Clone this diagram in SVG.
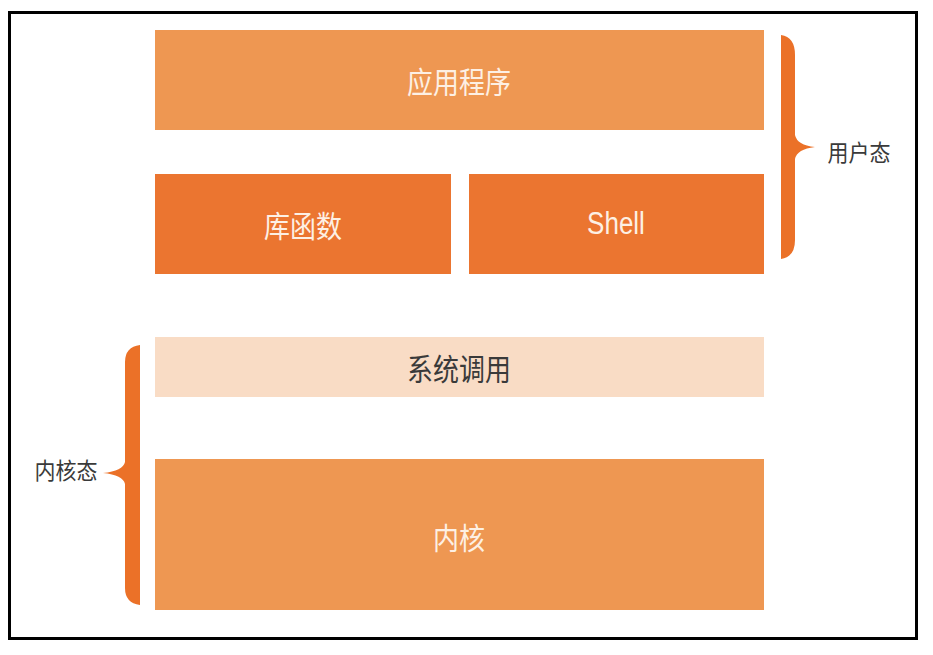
<svg xmlns="http://www.w3.org/2000/svg" width="933" height="655" viewBox="0 0 933 655">
<style>
.t{font-family:"Noto Sans CJK SC","Liberation Sans",sans-serif;text-anchor:middle;dominant-baseline:central}
.w{fill:#FDF0E4;font-size:26px}
.d{fill:#3a3a3a;font-size:26px}
.l{fill:#3a3a3a;font-size:21px}
.brace{fill:#EB7128}
</style>
<rect x="0" y="0" width="933" height="655" fill="#ffffff"/>
<rect x="9.5" y="12.5" width="907" height="626" fill="#ffffff" stroke="#000" stroke-width="3"/>
<g id="app"><rect x="155" y="30" width="609" height="100" fill="#EE9752"/><text class="t w" transform="translate(459,80) scale(1,1.15)">应用程序</text></g>
<g id="lib"><rect x="155" y="174" width="296" height="100" fill="#EB7530"/><text class="t w" transform="translate(303,224) scale(1,1.15)">库函数</text></g>
<g id="shell"><rect x="469" y="174" width="295" height="100" fill="#EB7530"/><text class="t w" transform="translate(616,223) scale(1,1.2)" style="font-family:'Liberation Sans',sans-serif">Shell</text></g>
<g id="syscall"><rect x="155" y="337" width="609" height="60" fill="#F9DCC5"/><text class="t d" transform="translate(459,367) scale(1,1.15)">系统调用</text></g>
<g id="kernel"><rect x="155" y="459" width="609" height="151" fill="#EE9752"/><text class="t w" transform="translate(459,536) scale(1,1.15)">内核</text></g>
<g id="user-brace"><path class="brace" d="M781,35 Q795,37 795,55 L795,135 Q797,145 815,147 Q797,149 795,159 L795,240 Q795,257 781,259 Z"/><text class="t l" transform="translate(859,151) scale(1,1.1)">用户态</text></g>
<g id="kernel-brace"><path class="brace" d="M140,345 Q125,347 125,362 L125,462 Q123,471 103,473 Q123,475 125,484 L125,588 Q125,603 140,605 Z"/><text class="t l" transform="translate(66,469) scale(1,1.1)">内核态</text></g>
<g id="connectors"></g>
</svg>
